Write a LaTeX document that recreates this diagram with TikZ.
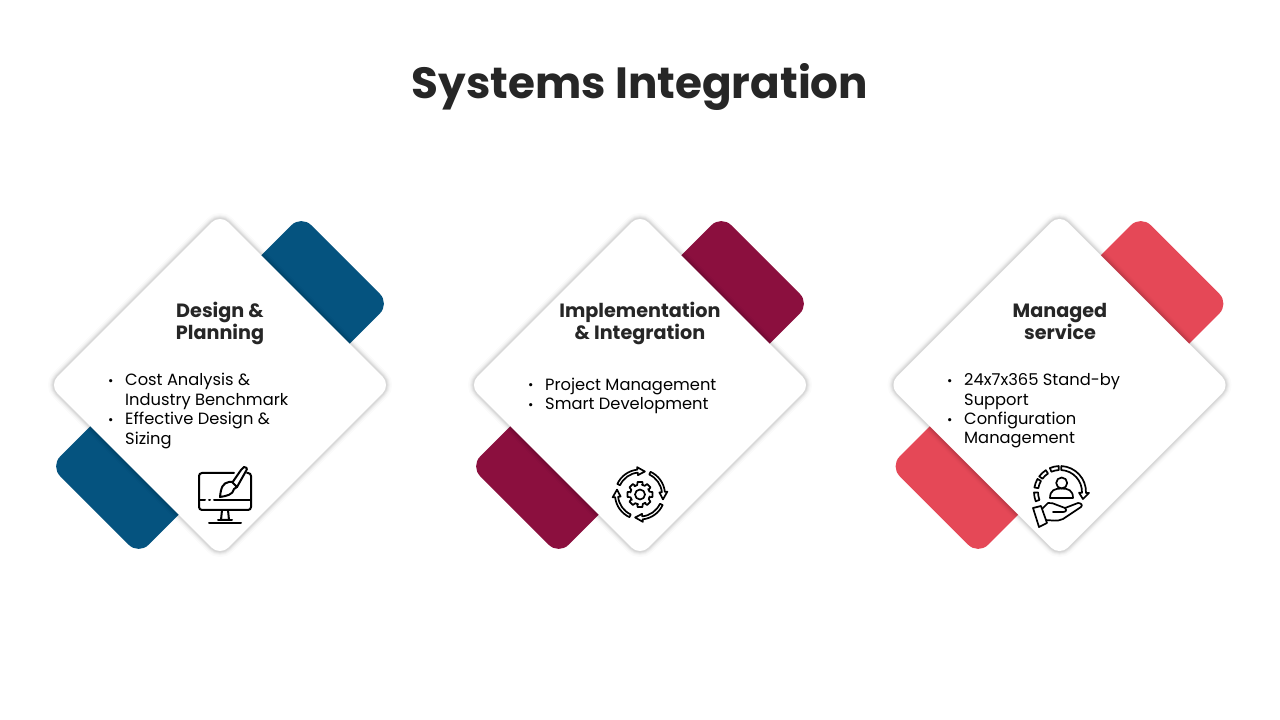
\documentclass[tikz,border=0pt]{standalone}
\usepackage{fontspec}
\setmainfont{Poppins}
\definecolor{bandblue}{HTML}{05537F}
\definecolor{bandmaroon}{HTML}{8B0F3E}
\definecolor{bandred}{HTML}{E54857}
\definecolor{inkdark}{HTML}{262626}
\newcommand{\bul}{\makebox[16pt][l]{\hspace*{-1pt}\raisebox{.5pt}{\fontsize{13}{13}\selectfont\textbullet}}}
\newcommand{\cont}{\hspace*{16pt}}
\tikzset{
  x=1pt, y=1pt,
  band/.style={minimum width=355pt, minimum height=125pt, inner sep=0pt, rotate=45, rounded corners=14pt},
  card/.style={fill=white, minimum width=241.8pt, minimum height=241.8pt, inner sep=0pt, rotate=45, rounded corners=12pt,
    preaction={draw=black, draw opacity=.015, line width=12pt},
    preaction={draw=black, draw opacity=.02, line width=9pt},
    preaction={draw=black, draw opacity=.03, line width=7pt},
    preaction={draw=black, draw opacity=.04, line width=5pt},
    preaction={draw=black, draw opacity=.05, line width=3pt}},
  titletext/.style={font=\fontsize{43.7}{50}\selectfont\bfseries, text=inkdark},
  headtext/.style={font=\fontsize{19.2}{22}\selectfont\bfseries, text=inkdark, align=center},
  listtext/.style={font=\fontsize{16.3}{19.4}\selectfont, text=black, align=left, anchor=west, inner sep=0pt},
  icon/.style={draw=black, line width=2pt, line join=round, line cap=round, fill=none},
  thinicon/.style={icon, line width=1.7pt}
}
\begin{document}
\begin{tikzpicture}
  \useasboundingbox (0,0) rectangle (1280,720);
  \fill[white] (0,0) rectangle (1280,720);

  \node[titletext] (title) at (640,633) {Systems Integration};

  \foreach \i/\cx/\col in {1/220/bandblue, 2/640/bandmaroon, 3/1059.5/bandred}{
    \node[band, fill=\col] (band\i) at (\cx,335) {};
    \node[card] (card\i) at (\cx,335) {};
  }

  \node[headtext] (head1) at (220,397) {Design \&\\Planning};
  \node[headtext] (head2) at (640,397) {Implementation\\\& Integration};
  \node[headtext] (head3) at (1060,399) {Managed\\service};

  \node[listtext] (list1) at (109,309) {\bul Cost Analysis \&\\\cont Industry Benchmark\\\bul Effective Design \&\\\cont Sizing};
  \node[listtext] (list2) at (529,324) {\bul Project Management\\\bul Smart Development};
  \node[listtext] (list3) at (948,309) {\bul 24x7x365 Stand-by\\\cont Support\\\bul Configuration\\\cont Management};

  % monitor and brush
  \draw[icon, rounded corners=3pt] (234,247) -- (199,247) -- (199,210) -- (251,210) -- (251,247) -- (247,247);
  \draw[icon] (200,220) -- (205,220) (209,220) -- (210,220) (214,220) -- (250,220);
  \draw[icon] (222,210) -- (221,200) -- (229,200) -- (228,210);
  \draw[icon] (209,197) -- (241,197) (218,200) -- (232,200);
  \draw[icon, fill=white] (232,237) -- (241,250) -- (244,253) .. controls (246,254) and (248,251) .. (246,249) -- (237,233) -- cycle;
  \draw[icon, fill=white] (229,238) .. controls (223,237) and (221,233) .. (220,223) .. controls (226,224) and (233,225) .. (234,231) -- (237,233) -- (232,238) -- cycle;

  % gear and arrows
  \begin{scope}[shift={(640,225.5)}]
    \draw[thinicon] (0,0) circle (5);
    \foreach \a in {0,45,...,315}
      \draw[thinicon, rotate=\a] (9.5,-3) -- (9.5,-2.8) -- (12.5,-2.4) -- (12.5,2.4) -- (9.5,2.8) -- (8.2,5.5);
    \foreach \a in {0,90,180,270}
      \draw[thinicon, rotate=\a] (155:25) arc (155:96:25) -- (96:27.5) -- (78:23.5) -- (96:19.5) -- (96:22) arc (96:155:22) -- cycle;
  \end{scope}

  % person on hand
  \begin{scope}[shift={(1060,228)}]
    \draw[thinicon] (1.7,9) circle (5.5);
    \draw[thinicon] (-10,-6) .. controls (-10,2) and (-5,3.5) .. (1.5,3.5) .. controls (8,3.5) and (13,2) .. (13,-6) -- cycle;
    \draw[thinicon] (87:26) arc (87:-2:26) -- (-2:29) -- (-17:24) -- (-2:19) -- (-2:22) arc (-2:87:22) -- cycle;
    \foreach \a in {103,133,160,191}
      \draw[thinicon] (\a-10:26) arc (\a-10:\a+10:26) -- (\a+10:22) arc (\a+10:\a-10:22) -- cycle;
    \draw[thinicon] (-19,-18) -- (-12,-11) .. controls (-9,-10) and (-6,-12) .. (-3,-13) -- (5,-16) .. controls (7,-18) and (6,-20) .. (3,-20) -- (-7,-20);
    \draw[thinicon] (5,-16) -- (18,-11) .. controls (21,-11) and (23,-13) .. (21,-15) -- (3,-27) .. controls (-3,-30) and (-9,-28) .. (-15,-28);
    \draw[thinicon, fill=white] (-27,-16) -- (-19,-14) -- (-13,-31) -- (-21,-35) -- cycle;
  \end{scope}
\end{tikzpicture}
\end{document}
